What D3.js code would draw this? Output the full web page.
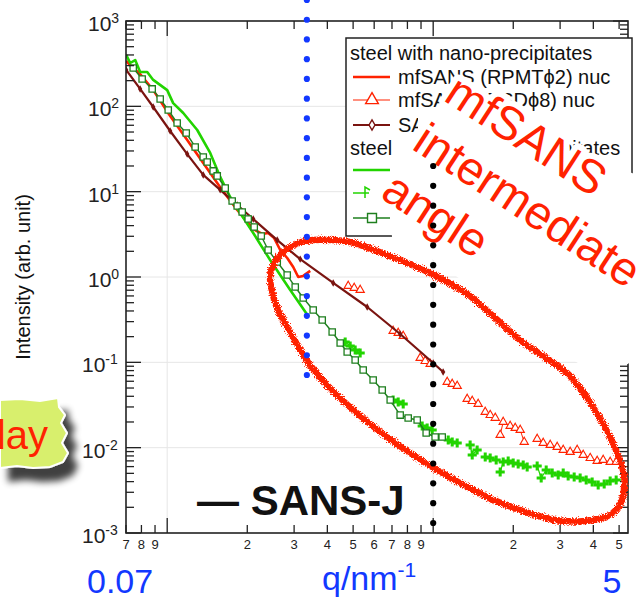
<!DOCTYPE html>
<html>
<head>
<meta charset="utf-8">
<script src="https://cdnjs.cloudflare.com/ajax/libs/d3/7.8.5/d3.min.js"></script>
<style>
    body { margin: 0; background: #fff; }
    svg { display: block; font-family: Arial, "Liberation Sans", Helvetica, sans-serif; }
</style>
</head>
<body>
<div id="chart"></div>
<script>
(function () {

    // ---- Data (q in 1/nm, intensity in arb. unit) ----

    // steel with nano-precipitates
    var rpmtNucQ = [0.0701, 0.0745, 0.0791, 0.0886, 0.1026, 0.1189, 0.1366, 0.1582, 0.1833, 0.2106,
                    0.2276, 0.2397, 0.2525, 0.2660, 0.2826, 0.2977, 0.3109, 0.3246, 0.3449];
    var rpmtNucI = [340, 281, 239, 155, 77.1, 40.3, 21.7, 11.3, 6.10, 3.65,
                    3.19, 3.28, 2.86, 2.07, 1.67, 1.31, 1.00, 1.03, 1.18];

    // null = gap between the measured pieces
    var psdNucQ = [0.4792, 0.5047, 0.5315, null, 0.7071, 0.7387, 0.7714, null, 0.8935, 0.9331, 0.9743, null,
                   1.129, 1.179, 1.231, null, 1.342, 1.402, 1.476, null, 1.569, 1.638, 1.711, null,
                   1.786, 1.833, 1.947, 2.034, 2.124, 2.199, null,
                   2.460, 2.592, 2.754, 2.925, 3.082, 3.273, 3.478, 3.664, 3.893, 4.135, 4.356, 4.628, 4.875];
    var psdNucI = [0.784, 0.743, 0.704, null, 0.2330, 0.2207, 0.2035, null, 0.1124, 0.1036, 0.0956, null,
                   0.0588, 0.0557, 0.0528, null, 0.0372, 0.0352, 0.0325, null, 0.0262, 0.0241, 0.0223, null,
                   0.01407, 0.0200, 0.01794, 0.0170, 0.0161, 0.01165, null,
                   0.01264, 0.01134, 0.01074, 0.01018, 0.00939, 0.00890, 0.00939, 0.00820, 0.00756, 0.00698, 0.00717, 0.00679, 0.00679];

    var sansjNucQ = [0.0701, 0.0791, 0.0886, 0.1026, 0.1189, 0.1366, 0.1582, 0.1833, 0.2106, 0.2592,
                     0.3162, 0.4207, 0.5648, 0.7513, 1.000, 1.090];
    var sansjNucI = [267, 160, 98.2, 51.4, 27.6, 15.7, 10.5, 6.98, 4.78, 2.71,
                     1.62, 0.851, 0.445, 0.2148, 0.0982, 0.0770];

    // steel without nano-precipitates
    var rpmtPlainQ = [0.0701, 0.0726, 0.0758, 0.0791, 0.0841, 0.0886, 0.1000, 0.1053, 0.1149, 0.1297,
                      0.1451, 0.1582, 0.1725, 0.1881, 0.2106, 0.2438, 0.2901, 0.3388];
    var rpmtPlainI = [400, 322, 349, 253, 253, 204, 155, 109, 83.5, 52.8,
                      28.4, 14.9, 8.66, 5.62, 3.28, 1.58, 0.704, 0.349];

    var psdPlainQ = [0.4668, 0.4875, 0.509, 0.5315, null, 0.7071, 0.7387, 0.7714, null, 0.9092, 0.9493, 0.9913, null,
                     1.139, 1.179, 1.231, null, 1.377, 1.402, 1.463, null, 1.569, 1.638, 1.725, null,
                     1.786, 1.833, 1.914, 1.999, 2.087, 2.180, 2.256, null,
                     2.460, 2.547, 2.660, 2.802, 2.951, 3.082, 3.217, 3.389, 3.569, 3.760, 3.960, 4.172, 4.394, 4.628, 4.875];
    var psdPlainI = [0.1731, 0.1553, 0.1395, 0.1286, null, 0.0362, 0.0343, 0.0325, null, 0.01794, 0.0170, 0.0161, null,
                     0.01230, 0.01165, 0.01134, null, 0.01074, 0.0082, 0.00939, null, 0.00777, 0.00756, 0.00717, null,
                     0.00519, 0.00679, 0.00698, 0.00661, 0.00643, 0.00626, 0.00593, null,
                     0.0061, 0.00441, 0.00547, 0.00505, 0.00478, 0.00505, 0.00465, 0.00453, 0.00441, 0.00418, 0.00396, 0.00365, 0.00375, 0.00407, 0.00418];

    var sansjPlainQ = [0.0745, 0.0805, 0.0878, 0.0941, 0.1009, 0.1090, 0.1179, 0.1274, 0.1366, 0.1414,
                       0.1489, 0.1542, 0.1652, 0.1755, 0.1833, 0.1914, 0.2016, 0.2124, 0.2257, 0.2397,
                       0.2592, 0.2826, 0.3029, 0.3246, 0.3539, 0.3826, 0.4172, 0.4471, 0.4751, 0.5090,
                       0.5455, 0.5947, 0.6432, 0.6894, 0.7513, 0.8053, 0.8706, 0.9412, 1.017, 1.081];
    var sansjPlainI = [281, 209, 160, 122, 90.6, 63.8, 48.7, 33.4, 25.5, 22.3,
                       17.5, 15.3, 11.0, 7.78, 6.79, 5.78, 4.78, 3.85, 3.02, 2.07,
                       1.50, 1.055, 0.763, 0.567, 0.411, 0.313, 0.2266, 0.1684, 0.1322, 0.1065,
                       0.0813, 0.0621, 0.0474, 0.0362, 0.0241, 0.0223, 0.0211, 0.01485, 0.01333, 0.01333];

    // axis ranges and labels
    var qDomain = [0.07, 5.4];
    var iDomain = [1e-3, 1e3];
    var yExponents = [-3, -2, -1, 0, 1, 2, 3];
    var guideQ = [0.335, 1];          // blue and black dotted guides
    var legendRows = [
        { text: 'steel with nano-precipitates', key: null },
        { text: 'mfSANS (RPMT\u03d52) nuc', key: 'rpmtNuc' },
        { text: 'mfSANS (PSD\u03d58) nuc', key: 'psdNuc' },
        { text: 'SANS-J nuc', key: 'sansjNuc' },
        { text: 'steel without nano-precipitates', key: null },
        { text: 'mfSANS (RPMT\u03d52) nuc', key: 'rpmtPlain' },
        { text: 'mfSANS (PSD\u03d58) nuc', key: 'psdPlain' },
        { text: 'SANS-J nuc', key: 'sansjPlain' }
    ];
    var overlayWords = ['mfSANS', 'intermediate', 'angle'];

    // colours
    var red = '#ff2200', brown = '#7a1410', green = '#22d400', dkgreen = '#1e7f1e', blue = '#1238ff';

    var zip = function (qs, is) {
        return qs.map(function (q, i) { return { q: q, I: is[i] }; });
    };

    // Create a root <svg> element
    var svg = d3.select('#chart')
        .append('svg')
        .attr('width', 640)
        .attr('height', 602);

    var defs = svg.append('defs');
    defs.append('clipPath').attr('id', 'plotclip')
        .append('rect').attr('x', 126).attr('y', 21).attr('width', 502).attr('height', 512);

    // rough marker-pen look for the ellipse
    var rough = defs.append('filter').attr('id', 'rough')
        .attr('x', '-10%').attr('y', '-10%').attr('width', '120%').attr('height', '120%');
    rough.append('feTurbulence').attr('type', 'fractalNoise').attr('baseFrequency', 0.9)
        .attr('numOctaves', 2).attr('result', 'noise');
    rough.append('feDisplacementMap').attr('in', 'SourceGraphic').attr('in2', 'noise')
        .attr('scale', 6).attr('xChannelSelector', 'R').attr('yChannelSelector', 'G');

    var shadow = defs.append('filter').attr('id', 'shadow')
        .attr('x', '-30%').attr('y', '-30%').attr('width', '180%').attr('height', '180%');
    shadow.append('feGaussianBlur').attr('in', 'SourceAlpha').attr('stdDeviation', 3.5).attr('result', 'b');
    shadow.append('feOffset').attr('in', 'b').attr('dx', 9).attr('dy', 13).attr('result', 'o');
    shadow.append('feComponentTransfer').attr('in', 'o').attr('result', 's')
        .append('feFuncA').attr('type', 'linear').attr('slope', 0.75);
    var sm = shadow.append('feMerge');
    sm.append('feMergeNode').attr('in', 's');
    sm.append('feMergeNode').attr('in', 'SourceGraphic');

    // scales
    var x = d3.scaleLog().domain(qDomain).range([126, 628]);
    var y = d3.scaleLog().domain(iDomain).range([533, 21]);

    var isMajor = function (v) {
        var l = Math.log10(v);
        return Math.abs(l - Math.round(l)) < 1e-6;
    };
    var firstDigit = function (v) {
        return Math.round(v / Math.pow(10, Math.floor(Math.log10(v) + 1e-9)));
    };

    // grid
    var grid = svg.append('g').attr('stroke', '#e6e6e6').attr('stroke-width', 1);
    y.ticks().filter(isMajor).forEach(function (v) {
        if (v === iDomain[0] || v === iDomain[1]) return;
        grid.append('line').attr('x1', 126).attr('x2', 628).attr('y1', y(v)).attr('y2', y(v));
    });
    x.ticks().filter(isMajor).forEach(function (v) {
        grid.append('line').attr('x1', x(v)).attr('x2', x(v)).attr('y1', 21).attr('y2', 533);
    });

    // data
    var plot = svg.append('g').attr('clip-path', 'url(#plotclip)');
    var line = d3.line()
        .defined(function (d) { return d.q != null && d.I != null; })
        .x(function (d) { return x(d.q); })
        .y(function (d) { return y(d.I); });

    var addSeries = function (data, color, width, symbol, size, fill, sw) {
        plot.append('path').datum(data)
            .attr('d', line).attr('fill', 'none')
            .attr('stroke', color).attr('stroke-width', width)
            .attr('stroke-linejoin', 'round');
        if (!symbol) return;
        plot.append('g').selectAll('path')
            .data(data.filter(function (d) { return d.q != null; }))
            .enter().append('path')
            .attr('transform', function (d) { return 'translate(' + x(d.q) + ',' + y(d.I) + ')'; })
            .attr('d', d3.symbol().type(symbol).size(size))
            .attr('fill', fill)
            .attr('stroke', fill === color ? 'none' : color)
            .attr('stroke-width', sw);
    };

    addSeries(zip(psdNucQ, psdNucI), red, 1, d3.symbolTriangle, 30, '#fff', 1.1);
    addSeries(zip(rpmtNucQ, rpmtNucI), red, 2.6, null);
    addSeries(zip(psdPlainQ, psdPlainI), green, 1.2, d3.symbolCross, 46, green, 0);
    addSeries(zip(rpmtPlainQ, rpmtPlainI), green, 2.6, null);
    addSeries(zip(sansjNucQ, sansjNucI), brown, 2.2, d3.symbolDiamond, 16, brown, 0);
    addSeries(zip(sansjPlainQ, sansjPlainI), dkgreen, 1.4, d3.symbolSquare, 40, '#fff', 1.3);

    // axes frame with inward ticks
    var axes = svg.append('g').attr('stroke', '#222').attr('stroke-width', 1.3);
    axes.append('rect').attr('x', 126).attr('y', 21).attr('width', 502).attr('height', 512)
        .attr('fill', 'none').attr('stroke-width', 1.6);
    x.ticks().forEach(function (v) {
        var len = isMajor(v) ? 15 : 8;
        axes.append('line').attr('x1', x(v)).attr('x2', x(v)).attr('y1', 533).attr('y2', 533 - len);
        axes.append('line').attr('x1', x(v)).attr('x2', x(v)).attr('y1', 21).attr('y2', 21 + len);
    });
    y.ticks().forEach(function (v) {
        var len = isMajor(v) ? 15 : 8;
        axes.append('line').attr('y1', y(v)).attr('y2', y(v)).attr('x1', 126).attr('x2', 126 + len);
        axes.append('line').attr('y1', y(v)).attr('y2', y(v)).attr('x1', 628).attr('x2', 628 - len);
    });

    // x tick labels (minor ones only show the leading digit)
    svg.append('g').selectAll('text')
        .data(x.ticks().filter(function (v) { return !isMajor(v); }))
        .enter().append('text')
        .attr('x', function (v) { return x(v); })
        .attr('y', 549)
        .attr('text-anchor', 'middle')
        .attr('font-size', 13)
        .attr('fill', '#222')
        .text(firstDigit);

    // y tick labels 10^n
    yExponents.forEach(function (e) {
        var t = svg.append('text')
            .attr('x', e < 0 ? 82 : 88)
            .attr('y', y(Math.pow(10, e)) + 10)
            .attr('font-size', 21)
            .attr('fill', '#222');
        t.append('tspan').text('10');
        t.append('tspan').attr('font-size', 14).attr('dy', -8).text(e < 0 ? '-' + (-e) : String(e));
    });

    // y axis title
    svg.append('text')
        .attr('transform', 'translate(30,277) rotate(-90)')
        .attr('text-anchor', 'middle')
        .attr('font-size', 20)
        .attr('fill', '#111')
        .text('Intensity (arb. unit)');

    // legend
    var lg = svg.append('g');
    lg.append('rect').attr('x', 346).attr('y', 38).attr('width', 286).attr('height', 198)
        .attr('fill', '#fff').attr('stroke', '#222').attr('stroke-width', 1.5);
    var rowY = [53, 77, 100, 125, 148, 170, 193, 218];
    var keyStyle = {
        rpmtNuc: { color: red, width: 2.6 },
        psdNuc: { color: red, width: 1.2, symbol: d3.symbolTriangle, size: 70, fill: '#fff' },
        sansjNuc: { color: brown, width: 2, symbol: d3.symbolDiamond, size: 30, fill: '#fff' },
        rpmtPlain: { color: green, width: 2.6 },
        psdPlain: { color: green, width: 1.5, tick: true },
        sansjPlain: { color: dkgreen, width: 1.5, symbol: d3.symbolSquare, size: 80, fill: '#fff' }
    };
    legendRows.forEach(function (r, i) {
        var cy = rowY[i];
        if (!r.key) {
            lg.append('text').attr('x', 350).attr('y', cy + 7).attr('font-size', 20)
                .attr('fill', '#111').text(r.text);
            return;
        }
        var s = keyStyle[r.key];
        lg.append('line').attr('x1', 353).attr('x2', s.tick ? 369 : 390).attr('y1', cy).attr('y2', cy)
            .attr('stroke', s.color).attr('stroke-width', s.width);
        if (s.tick) {
            lg.append('path').attr('d', 'M365,' + (cy + 5) + 'V' + (cy - 6) + 'L370,' + (cy - 3))
                .attr('fill', 'none').attr('stroke', s.color).attr('stroke-width', 1.5);
        }
        if (s.symbol) {
            lg.append('path').attr('transform', 'translate(372,' + cy + ')')
                .attr('d', d3.symbol().type(s.symbol).size(s.size))
                .attr('fill', s.fill).attr('stroke', s.color).attr('stroke-width', 1.4);
        }
        lg.append('text').attr('x', 398).attr('y', cy + 7).attr('font-size', 20)
            .attr('fill', '#111').text(r.text);
    });

    // white backing of the pasted-in slide text
    var cover = [[418, 108], [470, 106], [545, 138], [558, 160], [605, 163], [640, 176], [640, 350], [628, 364],
                 [585, 367], [520, 330], [463, 281], [405, 240], [392, 237], [389, 200], [393, 140], [418, 134]];
    svg.append('path').attr('d', 'M' + cover.join('L') + 'Z').attr('fill', '#fff');

    var ov = svg.append('g').attr('transform', 'translate(4,-6) rotate(33)');
    overlayWords.forEach(function (w, i) {
        ov.append('text')
            .attr('x', 425).attr('y', -150 + 58 * i)
            .attr('font-size', 47)
            .attr('fill', red)
            .attr('stroke', '#fff').attr('stroke-width', 12)
            .attr('stroke-linejoin', 'round')
            .attr('paint-order', 'stroke')
            .text(w);
    });

    // hand drawn ellipse round the intermediate-angle region
    var loop = [[270, 278], [276, 260], [290, 247], [313, 240], [350, 242], [387, 255], [430, 273],
                [470, 296], [520, 340], [567, 373], [593, 407], [613, 443], [624, 475], [622, 500],
                [610, 515], [585, 521], [555, 520], [520, 510], [487, 497], [437, 470], [387, 437],
                [340, 398], [310, 365], [290, 332], [276, 305]];
    svg.append('path')
        .attr('d', d3.line().curve(d3.curveCardinalClosed.tension(0.2))(loop))
        .attr('fill', 'none').attr('stroke', red).attr('stroke-width', 6.5)
        .attr('filter', 'url(#rough)');

    // dotted guides
    var dots = function (q, y0, y1, color) {
        var n = Math.round((y1 - y0) / 19.8);
        svg.append('g').selectAll('circle')
            .data(d3.range(n + 1))
            .enter().append('circle')
            .attr('cx', x(q))
            .attr('cy', function (k) { return y0 + k * (y1 - y0) / n; })
            .attr('r', 3.1)
            .attr('fill', color);
    };
    dots(guideQ[0], 0, 375, blue);
    dots(guideQ[1], 166, 523, '#000');

    svg.append('text').attr('x', 197).attr('y', 515)
        .attr('font-size', 42).attr('font-weight', 'bold').attr('fill', '#111')
        .text('\u2014 SANS-J');

    // slide labels under the axis
    svg.append('rect').attr('x', 0).attr('y', 554).attr('width', 640).attr('height', 48).attr('fill', '#fff');
    svg.append('text').attr('x', 87).attr('y', 593).attr('font-size', 34).attr('fill', blue).text(qDomain[0]);
    var ql = svg.append('text').attr('x', 322).attr('y', 590).attr('font-size', 34).attr('fill', blue);
    ql.append('tspan').text('q/nm');
    ql.append('tspan').attr('font-size', 21).attr('dy', -13).text('-1');
    svg.append('text').attr('x', 612).attr('y', 593).attr('text-anchor', 'middle')
        .attr('font-size', 34).attr('fill', blue).text('5');

    // torn paper sticker at the left edge
    var paper = [[0, 400], [20, 399], [40, 401], [58, 398], [59, 407], [65, 415], [61, 423], [67, 433],
                 [62, 443], [68, 453], [63, 462], [50, 467], [33, 468], [17, 466], [0, 468]];
    svg.append('path').attr('d', 'M' + paper.join('L') + 'Z')
        .attr('fill', '#d8ef6d').attr('stroke', '#fff').attr('stroke-width', 2)
        .attr('filter', 'url(#shadow)');
    svg.append('text').attr('x', 48).attr('y', 449).attr('text-anchor', 'end')
        .attr('font-size', 40).attr('fill', red).text('day');

})();
</script>
</body>
</html>
